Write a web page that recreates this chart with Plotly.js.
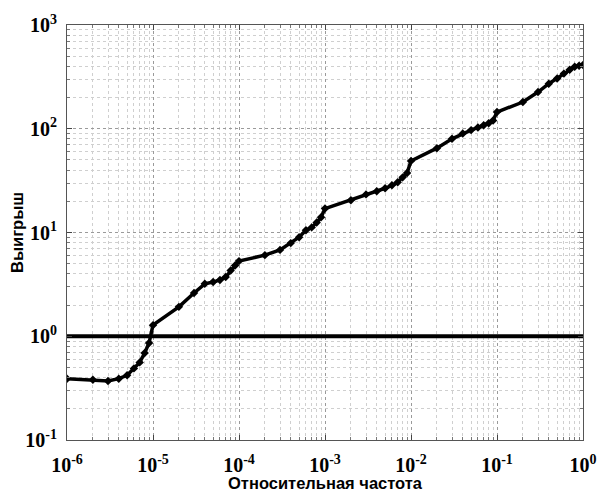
<!DOCTYPE html>
<html><head><meta charset="utf-8">
<script src="https://cdn.plot.ly/plotly-3.0.1.min.js"></script>
<style>body{margin:0;background:#fff}#chart{width:601px;height:491px}</style>
</head><body><div id="chart"></div>
<script>
const freq = [1e-6,2e-6,3e-6,4e-6,5e-6,6e-6,7e-6,8e-6,9e-6,
  1e-5,2e-5,3e-5,4e-5,5e-5,6e-5,7e-5,8e-5,9e-5,
  1e-4,2e-4,3e-4,4e-4,5e-4,6e-4,7e-4,8e-4,9e-4,
  1e-3,2e-3,3e-3,4e-3,5e-3,6e-3,7e-3,8e-3,9e-3,
  1e-2,2e-2,3e-2,4e-2,5e-2,6e-2,7e-2,8e-2,9e-2,
  1e-1,2e-1,3e-1,4e-1,5e-1,6e-1,7e-1,8e-1,9e-1,1];
const gain = [0.39,0.38,0.37,0.39,0.42,0.49,0.56,0.69,0.86,
  1.28,1.92,2.61,3.2,3.33,3.49,3.72,4.3,4.8,
  5.3,6.05,6.8,7.9,9.0,10.5,11.2,12.5,14.0,
  17.0,20.5,23.3,25.0,26.7,28.5,30.5,34.0,37.5,
  49,65,80,90,97,103,108,113,120,
  145,181,226,272,305,340,370,395,405,412];
const refLevel = [1,1];
const refX = [1e-6,1];
const tickX = [1e-6,1e-5,1e-4,1e-3,1e-2,1e-1,1];
const tickXText = ['10<sup>-6</sup>','10<sup>-5</sup>','10<sup>-4</sup>','10<sup>-3</sup>','10<sup>-2</sup>','10<sup>-1</sup>','10<sup>0</sup>'];
const tickY = [0.1,1,10,100,1000];
const tickYText = ['10<sup>-1</sup>','10<sup>0</sup>','10<sup>1</sup>','10<sup>2</sup>','10<sup>3</sup>'];
const minorMult = [2,3,4,5,6,7,8,9];
const xTitle = 'Относительная частота';
const yTitle = 'Выигрыш';

function minorTicks(decades){
  const out = [];
  decades.forEach(d => { if (d < Math.max(...decades)) minorMult.forEach(m => out.push(m*d)); });
  return out;
}
const minorX = minorTicks(tickX);
const minorY = minorTicks(tickY);

const traces = [
  {x:refX, y:refLevel, mode:'lines', line:{color:'#000', width:4}, hoverinfo:'skip'},
  {x:freq, y:gain, mode:'lines+markers', line:{color:'#000', width:3.5},
   marker:{symbol:'diamond', size:6.5, color:'#000'}}
];
const axisFont = {family:"'Liberation Serif', 'Times New Roman', Times, serif", size:20, color:'#000', weight:'bold'};
const titleFont = {family:"'Liberation Sans', Arial, sans-serif", size:16.5, color:'#000', weight:'bold'};
function axis(range, tv, tt, minorVals){
  return {type:'log', range:range, tickmode:'array', tickvals:tv, ticktext:tt,
    tickfont:axisFont, ticks:'inside', ticklen:5, tickcolor:'#444',
    showline:true, linecolor:'#555', linewidth:1, mirror:'ticks', zeroline:false,
    showgrid:true, gridcolor:'#9a9a9a', griddash:'dot', gridwidth:1,
    minor:{tickmode:'array', tickvals:minorVals, showgrid:true, gridcolor:'#cfcfcf', griddash:'dot', gridwidth:1,
      ticks:'inside', ticklen:3, tickcolor:'#777'}};
}
const layout = {
  width:601, height:491,
  margin:{l:67, r:18, t:25, b:51},
  paper_bgcolor:'#fff', plot_bgcolor:'#fff',
  showlegend:false,
  xaxis:Object.assign(axis([-6,0], tickX, tickXText, minorX), {ticklabelstandoff:7}),
  yaxis:Object.assign(axis([-1,3], tickY, tickYText, minorY), {ticklabelstandoff:5}),
  annotations:[
    {text:xTitle, xref:'paper', yref:'paper', x:0.5, y:-0.104, xanchor:'center', yanchor:'middle',
     showarrow:false, font:titleFont},
    {text:yTitle, xref:'paper', yref:'paper', x:-0.098, y:0.5, xanchor:'center', yanchor:'middle',
     textangle:-90, showarrow:false, font:titleFont}
  ]
};
Plotly.newPlot('chart', traces, layout, {staticPlot:true, displayModeBar:false});
</script></body></html>
